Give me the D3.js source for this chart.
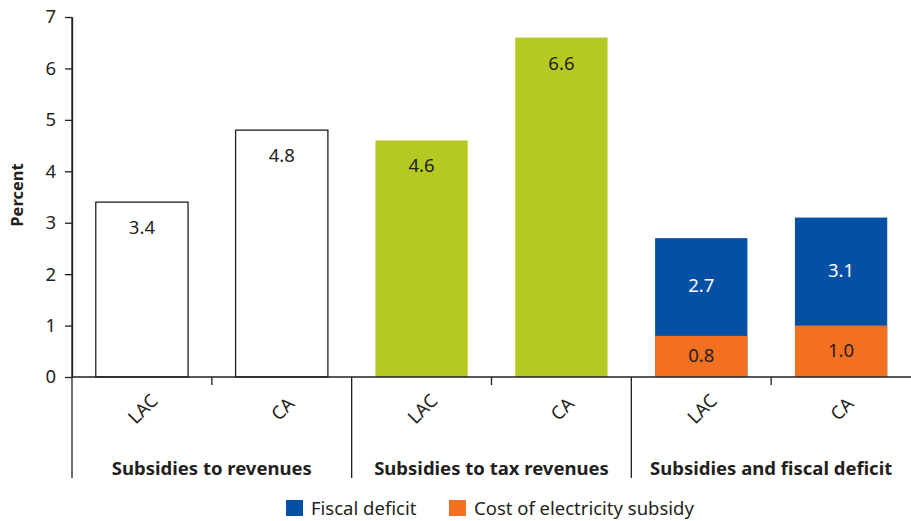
<!DOCTYPE html>
<html>
<head>
<meta charset="utf-8">
<script src="https://cdn.jsdelivr.net/npm/d3@7"></script>
<style>
  body { margin: 0; background: #fff; }
  svg text { font-family: "Noto Sans", Lato, sans-serif; fill: #231f20; }
</style>
</head>
<body>
<div id="chart"></div>
<script>
const groups = ["Subsidies to revenues", "Subsidies to tax revenues", "Subsidies and fiscal deficit"];
const regions = ["LAC", "CA"];
const revenues = [3.4, 4.8];
const taxRevenues = [4.6, 6.6];
const fiscalDeficit = [2.7, 3.1];
const electricityCost = [0.8, 1.0];
const yTicks = [0, 1, 2, 3, 4, 5, 6, 7];
const legendLabels = ["Fiscal deficit", "Cost of electricity subsidy"];

const WIDTH = 911;
const HEIGHT = 521;
const LEFT = 72;
const RIGHT = 911;
const TOP = 17;
const BASE = 377;
const SEP_BOTTOM = 478;
const FONT = "18.5px";

const WHITE = "#ffffff";
const GREEN = "#b5c923";
const BLUE = "#0450a4";
const ORANGE = "#f37021";

const svg = d3.select("#chart")
  .append("svg")
  .attr("width", WIDTH)
  .attr("height", HEIGHT);

const keys = [];
groups.forEach((g, gi) => regions.forEach(r => keys.push(gi + "-" + r)));

const x = d3.scaleBand()
  .domain(keys)
  .range([LEFT, RIGHT])
  .paddingInner(0.34)
  .paddingOuter(0.17);

const y = d3.scaleLinear().domain([0, 7]).range([BASE, TOP]);

// y axis
const yAxis = svg.append("g")
  .attr("transform", `translate(${LEFT},0)`)
  .call(d3.axisLeft(y).tickValues(yTicks).tickFormat(d3.format("d")).tickSize(7).tickSizeOuter(0));
yAxis.select(".domain").attr("stroke", "#231f20").attr("stroke-width", 1.3);
yAxis.selectAll(".tick line").attr("stroke", "#231f20").attr("stroke-width", 1.3);
yAxis.selectAll(".tick text")
  .attr("x", -16)
  .style("font-size", FONT)
  .style("font-family", "'Noto Sans', Lato, sans-serif")
  .attr("fill", "#231f20");

svg.append("text")
  .attr("transform", `translate(23,195) rotate(-90)`)
  .attr("text-anchor", "middle")
  .style("font-size", "16.5px")
  .style("font-weight", "bold")
  .text("Percent");

// bars
const simple = [
  { values: revenues, fill: WHITE, stroke: "#231f20" },
  { values: taxRevenues, fill: GREEN, stroke: "none" }
];
simple.forEach((s, gi) => {
  s.values.forEach((v, ri) => {
    const k = gi + "-" + regions[ri];
    svg.append("rect")
      .attr("x", x(k))
      .attr("y", y(v))
      .attr("width", x.bandwidth())
      .attr("height", BASE - y(v))
      .attr("fill", s.fill)
      .attr("stroke", s.stroke)
      .attr("stroke-width", 1.3);
    svg.append("text")
      .attr("x", x(k) + x.bandwidth() / 2)
      .attr("y", y(v) + 27)
      .attr("text-anchor", "middle")
      .attr("dominant-baseline", "middle")
      .style("font-size", FONT)
      .text(v.toFixed(1));
  });
});

fiscalDeficit.forEach((v, ri) => {
  const k = "2-" + regions[ri];
  const c = electricityCost[ri];
  svg.append("rect")
    .attr("x", x(k)).attr("y", y(v))
    .attr("width", x.bandwidth()).attr("height", BASE - y(v))
    .attr("fill", BLUE);
  svg.append("rect")
    .attr("x", x(k)).attr("y", y(c))
    .attr("width", x.bandwidth()).attr("height", BASE - y(c))
    .attr("fill", ORANGE);
  svg.append("text")
    .attr("x", x(k) + x.bandwidth() / 2)
    .attr("y", (y(v) + y(c)) / 2)
    .attr("text-anchor", "middle")
    .attr("dominant-baseline", "middle")
    .style("font-size", FONT)
    .style("fill", "#ffffff")
    .text(v.toFixed(1));
  svg.append("text")
    .attr("x", x(k) + x.bandwidth() / 2)
    .attr("y", (y(c) + BASE) / 2 + 1)
    .attr("text-anchor", "middle")
    .attr("dominant-baseline", "middle")
    .style("font-size", FONT)
    .text(c.toFixed(1));
});

// x axis line, ticks, separators
svg.append("line")
  .attr("x1", LEFT).attr("x2", RIGHT)
  .attr("y1", BASE).attr("y2", BASE)
  .attr("stroke", "#231f20").attr("stroke-width", 1.3);

const step = x.step();
for (let i = 0; i < keys.length; i++) {
  const bx = LEFT + step * i;
  const isSep = i % 2 === 0;
  svg.append("line")
    .attr("x1", bx).attr("x2", bx)
    .attr("y1", isSep && i === 0 ? TOP : BASE)
    .attr("y2", isSep ? SEP_BOTTOM : BASE + 8)
    .attr("stroke", "#231f20").attr("stroke-width", 1.3);
}

// region labels (rotated)
keys.forEach((k, i) => {
  const cx = x(k) + x.bandwidth() / 2;
  svg.append("text")
    .attr("transform", `translate(${cx + 2},${410}) rotate(-45)`)
    .attr("text-anchor", "middle")
    .attr("dominant-baseline", "middle")
    .style("font-size", FONT)
    .text(regions[i % 2]);
});

// group labels
groups.forEach((g, gi) => {
  svg.append("text")
    .attr("x", LEFT + step * (gi * 2 + 1))
    .attr("y", 475)
    .attr("text-anchor", "middle")
    .style("font-size", FONT)
    .style("font-weight", "bold")
    .text(g);
});

// legend
const legend = svg.append("g").attr("transform", "translate(286,500)");
const legendColors = [BLUE, ORANGE];
const legendX = [0, 163];
legendLabels.forEach((l, i) => {
  legend.append("rect")
    .attr("x", legendX[i]).attr("y", 0)
    .attr("width", 17).attr("height", 16)
    .attr("fill", legendColors[i]);
  legend.append("text")
    .attr("x", legendX[i] + 25)
    .attr("y", 15)
    .style("font-size", FONT)
    .text(l);
});
</script>
</body>
</html>
